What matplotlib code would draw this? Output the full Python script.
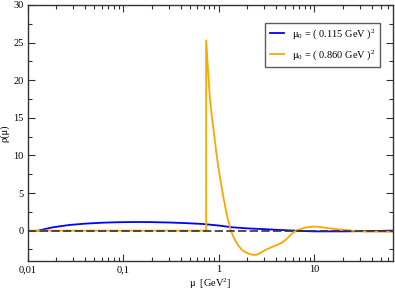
import numpy as np
import matplotlib
matplotlib.use("Agg")
import matplotlib.pyplot as plt
from matplotlib.ticker import FixedLocator, FixedFormatter, MultipleLocator, LogLocator, NullFormatter

plt.rcParams['font.family'] = ['Liberation Serif', 'DejaVu Serif']
plt.rcParams['mathtext.fontset'] = 'custom'
plt.rcParams['mathtext.rm'] = 'Liberation Serif'
plt.rcParams['mathtext.it'] = 'Liberation Serif:italic'

# values
mu_blue = [0.0129, 0.015, 0.0185, 0.0276, 0.04, 0.0613, 0.09, 0.136, 0.2, 0.304,
           0.45, 0.675, 1.0, 1.38, 2.0, 3.09, 4.5, 6.3, 10, 20, 40, 66]
rho_blue = [0.0, 0.2, 0.45, 0.76, 0.93, 1.06, 1.12, 1.15, 1.13, 1.08,
            1.0, 0.89, 0.68, 0.45, 0.3, 0.19, 0.08, 0.0, -0.1, -0.1, -0.05, 0.0]

mu_orange = [0.01, 0.74, 0.74, 0.775, 0.812, 0.85, 0.894, 0.94, 0.991, 1.06, 1.135,
             1.229, 1.343, 1.42, 1.5, 1.6, 1.76, 1.9, 2.0, 2.29, 2.5, 2.7, 3.09, 3.5,
             4.0, 4.6, 5.2, 5.85, 6.5, 7.2, 8.05, 9.0, 9.8, 10.6, 12, 14, 17.9, 24.6, 34, 66]
rho_orange = [0.0, 0.0, 25.3, 21.2, 17.4, 15.1, 12.95, 10.6, 8.5, 6.2, 4.08,
              1.86, 0.0, -0.75, -1.35, -1.95, -2.57, -2.85, -3.0, -3.23, -3.2, -3.0, -2.57, -2.25,
              -1.95, -1.6, -1.05, -0.4, 0.0, 0.22, 0.4, 0.5, 0.53, 0.53, 0.45, 0.33, 0.18, 0.0, -0.13, -0.15]

labels = [r"$\mathrm{\mu}_0$ = ( 0.115 GeV )$^2$", r"$\mathrm{\mu}_0$ = ( 0.860 GeV )$^2$"]
xticks = [0.01, 0.1, 1, 10]
xticklabels = ["0,01", "0,1", "1", "10"]

fig = plt.figure(figsize=(3.95, 2.91), dpi=100)
ax = fig.add_axes([0.0701, 0.104, 0.924, 0.879])

ax.plot(mu_blue, rho_blue, color="#0000ff", lw=1.3, label=labels[0])
ax.plot(mu_orange, rho_orange, color="#ffa500", lw=1.3, label=labels[1])
ax.plot([0.01, 66.5], [0, 0], color="#333333", lw=1.2, dashes=(5, 2))

ax.set_xscale("log")
ax.set_xlim(0.01, 66.5)
ax.set_ylim(-4, 30)

ax.xaxis.set_major_locator(FixedLocator(xticks))
ax.xaxis.set_major_formatter(FixedFormatter(xticklabels))
ax.xaxis.set_minor_locator(LogLocator(base=10, subs=np.arange(2, 10)))
ax.xaxis.set_minor_formatter(NullFormatter())
ax.yaxis.set_major_locator(MultipleLocator(5))
ax.yaxis.set_minor_locator(MultipleLocator(2.5))

ax.tick_params(which="both", direction="in", top=True, right=True, labelsize=7.5, color="#333333")
ax.tick_params(which="major", length=5, width=0.8, pad=3)
ax.tick_params(which="minor", length=3, width=0.8)
for s in ax.spines.values():
    s.set_color("#333333")
    s.set_linewidth(1.0)

ax.set_xlabel(r"μ  [GeV$^2$]", fontsize=7.5, labelpad=2)
ax.set_ylabel("ρ(μ)", fontsize=7.5, labelpad=3)

leg = ax.legend(loc="upper right", bbox_to_anchor=(0.965, 0.931), borderaxespad=0,
                fontsize=7.5, frameon=True, fancybox=False, handlelength=1.4,
                handletextpad=0.7, borderpad=0.45, labelspacing=0.65, edgecolor="#333333")
leg.get_frame().set_linewidth(1.0)

fig.savefig("out.png", dpi=100)
